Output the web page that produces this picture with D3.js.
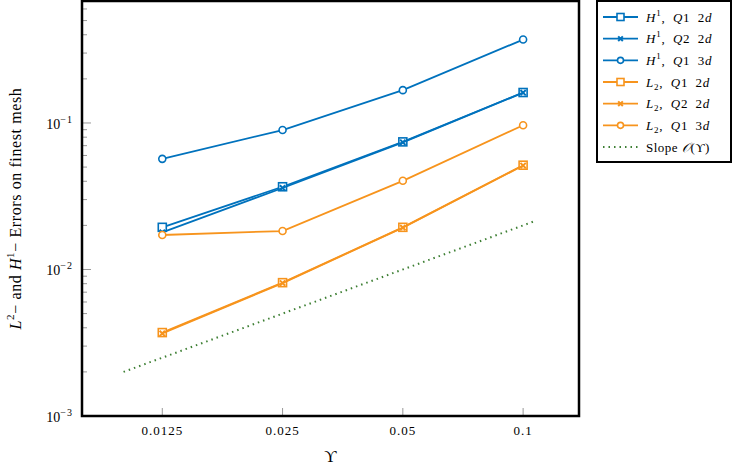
<!DOCTYPE html>
<html>
<head>
<meta charset="utf-8">
<script src="https://cdn.jsdelivr.net/npm/d3@7"></script>
<style>
  body { margin: 0; background: #fff; }
  text { font-family: "Liberation Serif", "DejaVu Serif", serif; }
</style>
</head>
<body>
<div id="chart"></div>
<script>
// values
var upsilon = [0.0125, 0.025, 0.05, 0.1];
var h1Q1_2d = [0.0194, 0.0367, 0.0743, 0.1614];
var h1Q2_2d = [0.0179, 0.0360, 0.0738, 0.1610];
var h1Q1_3d = [0.0569, 0.0895, 0.1675, 0.371];
var l2Q1_2d = [0.00371, 0.00813, 0.0194, 0.0515];
var l2Q2_2d = [0.00366, 0.00808, 0.0193, 0.0512];
var l2Q1_3d = [0.0172, 0.0183, 0.0403, 0.0964];
var slopeX = [0.01, 0.106];
var slopeY = [0.002, 0.0212];
var yMajor = [-3, -2, -1];

var blue = "#0072BD", orange = "#F7941D", green = "#3d7f33";

var series = [
    { name: "H", sup: "1", q: "Q1 2d", vals: h1Q1_2d, color: blue, marker: "square" },
    { name: "H", sup: "1", q: "Q2 2d", vals: h1Q2_2d, color: blue, marker: "cross" },
    { name: "H", sup: "1", q: "Q1 3d", vals: h1Q1_3d, color: blue, marker: "circle" },
    { name: "L", sub: "2", q: "Q1 2d", vals: l2Q1_2d, color: orange, marker: "square" },
    { name: "L", sub: "2", q: "Q2 2d", vals: l2Q2_2d, color: orange, marker: "cross" },
    { name: "L", sub: "2", q: "Q1 3d", vals: l2Q1_3d, color: orange, marker: "circle" }
];

var width = 733, height = 469;
var plot = { left: 82, top: 1, right: 579, bottom: 416 };

var svg = d3.select("#chart").append("svg")
    .attr("width", width)
    .attr("height", height);

var x = d3.scaleLog().domain([0.00787, 0.138]).range([plot.left, plot.right]);
var y = d3.scaleLog().domain([0.001, 0.68]).range([plot.bottom, plot.top]);

// ticks (inward)
var minor = [];
yMajor.forEach(function(e) {
    for (var k = 2; k <= 9; k++) {
        var v = k * Math.pow(10, e);
        if (v <= 0.68) minor.push(v);
    }
});
var g = svg.append("g");
g.selectAll(".ymin").data(minor).enter().append("line")
    .attr("x1", plot.left).attr("x2", plot.left + 5)
    .attr("y1", function(d) { return y(d); }).attr("y2", function(d) { return y(d); })
    .attr("stroke", "#999").attr("stroke-width", 1);
g.selectAll(".ymaj").data(yMajor).enter().append("line")
    .attr("x1", plot.left).attr("x2", plot.left + 9)
    .attr("y1", function(d) { return y(Math.pow(10, d)); }).attr("y2", function(d) { return y(Math.pow(10, d)); })
    .attr("stroke", "#999").attr("stroke-width", 1);
g.selectAll(".xt").data(upsilon).enter().append("line")
    .attr("x1", function(d) { return x(d); }).attr("x2", function(d) { return x(d); })
    .attr("y1", plot.bottom).attr("y2", plot.bottom - 8)
    .attr("stroke", "#999").attr("stroke-width", 1);

// tick labels
g.selectAll(".xl").data(upsilon).enter().append("text")
    .attr("x", function(d) { return x(d); })
    .attr("y", 435)
    .attr("text-anchor", "middle")
    .style("font-size", "13px")
    .style("letter-spacing", "1px")
    .text(function(d) { return String(d); });

var yl = g.selectAll(".yl").data(yMajor).enter().append("text")
    .attr("x", 73)
    .attr("y", function(d) { return y(Math.pow(10, d)) + 6; })
    .attr("text-anchor", "end")
    .style("font-size", "14px");
yl.append("tspan").text("10");
yl.append("tspan").attr("dy", -6).style("font-size", "10px").style("letter-spacing", "1px").text(function(d) { return "\u2212" + Math.abs(d); });

// axis labels
svg.append("text")
    .attr("x", (plot.left + plot.right) / 2)
    .attr("y", 462)
    .attr("text-anchor", "middle")
    .style("font-size", "17px")
    .text("\u03D2");

var ylab = svg.append("text")
    .attr("transform", "translate(21," + (plot.top + plot.bottom) / 2 + ") rotate(-90)")
    .attr("text-anchor", "middle")
    .style("font-size", "16px")
    .style("letter-spacing", "0.6px");
ylab.append("tspan").style("font-style", "italic").text("L");
ylab.append("tspan").attr("dy", -7).style("font-size", "11px").text("2");
ylab.append("tspan").attr("dy", 7).text("\u2212 and ");
ylab.append("tspan").style("font-style", "italic").text("H");
ylab.append("tspan").attr("dy", -7).style("font-size", "11px").text("1");
ylab.append("tspan").attr("dy", 7).text("\u2212 Errors on finest mesh");

// marker drawing
function drawMarker(sel, type, color, size) {
    if (type === "square") {
        sel.append("rect")
            .attr("x", -size / 2).attr("y", -size / 2)
            .attr("width", size).attr("height", size)
            .attr("fill", "#fff").attr("stroke", color).attr("stroke-width", 1.6);
    } else if (type === "circle") {
        sel.append("circle").attr("r", size / 2 - 0.5)
            .attr("fill", "#fff").attr("stroke", color).attr("stroke-width", 1.6);
    } else {
        var s = size / 3;
        sel.append("path")
            .attr("d", "M" + (-s) + "," + (-s) + "L" + s + "," + s + "M" + (-s) + "," + s + "L" + s + "," + (-s))
            .attr("stroke", color).attr("stroke-width", 2);
    }
}

var line = d3.line()
    .x(function(d) { return x(d[0]); })
    .y(function(d) { return y(d[1]); });

series.forEach(function(s) {
    var pts = upsilon.map(function(u, i) { return [u, s.vals[i]]; });
    svg.append("path")
        .attr("d", line(pts))
        .attr("fill", "none")
        .attr("stroke", s.color)
        .attr("stroke-width", 1.8);
    pts.forEach(function(p) {
        var m = svg.append("g").attr("transform", "translate(" + x(p[0]) + "," + y(p[1]) + ")");
        drawMarker(m, s.marker, s.color, 8);
    });
});

// slope reference
svg.append("path")
    .attr("d", line(slopeX.map(function(v, i) { return [v, slopeY[i]]; })))
    .attr("fill", "none")
    .attr("stroke", green)
    .attr("stroke-width", 2)
    .attr("stroke-dasharray", "1.5,4");

// frame
svg.append("rect")
    .attr("x", plot.left).attr("y", plot.top)
    .attr("width", plot.right - plot.left).attr("height", plot.bottom - plot.top)
    .attr("fill", "none").attr("stroke", "#000").attr("stroke-width", 2.5);

// legend
var leg = svg.append("g");
leg.append("rect")
    .attr("x", 597).attr("y", 1).attr("width", 134).attr("height", 161)
    .attr("fill", "#fff").attr("stroke", "#000").attr("stroke-width", 2);

var rowY = d3.scaleLinear().domain([0, 6]).range([17, 147]);
series.forEach(function(s, i) {
    var cy = rowY(i);
    leg.append("line")
        .attr("x1", 603).attr("x2", 638).attr("y1", cy).attr("y2", cy)
        .attr("stroke", s.color).attr("stroke-width", 1.8);
    var m = leg.append("g").attr("transform", "translate(620.5," + cy + ")");
    drawMarker(m, s.marker, s.color, 7);
    var t = leg.append("text").attr("x", 646).attr("y", cy + 4.5)
        .style("font-size", "13px").style("letter-spacing", "0.8px");
    t.append("tspan").style("font-style", "italic").text(s.name);
    if (s.sup) {
        t.append("tspan").attr("dy", -6).style("font-size", "9px").text(s.sup);
        t.append("tspan").attr("dy", 6).text(",\u2002");
    } else {
        t.append("tspan").attr("dy", 3).style("font-size", "9px").text(s.sub);
        t.append("tspan").attr("dy", -3).text(",\u2002");
    }
    var parts = s.q.split(" ");
    t.append("tspan").style("font-style", "italic").text(parts[0].charAt(0));
    t.append("tspan").text(parts[0].slice(1) + "\u2002" + parts[1].charAt(0));
    t.append("tspan").style("font-style", "italic").text(parts[1].slice(1));
});
var sy = rowY(6);
leg.append("line")
    .attr("x1", 603).attr("x2", 638).attr("y1", sy).attr("y2", sy)
    .attr("stroke", green).attr("stroke-width", 2).attr("stroke-dasharray", "1.5,4");
var st = leg.append("text").attr("x", 646).attr("y", sy + 4.5)
    .style("font-size", "13px").style("letter-spacing", "0.5px");
st.append("tspan").text("Slope ");
st.append("tspan").style("font-style", "italic").text("\uD835\uDCAA");
st.append("tspan").text("(\u03D2)");
</script>
</body>
</html>
